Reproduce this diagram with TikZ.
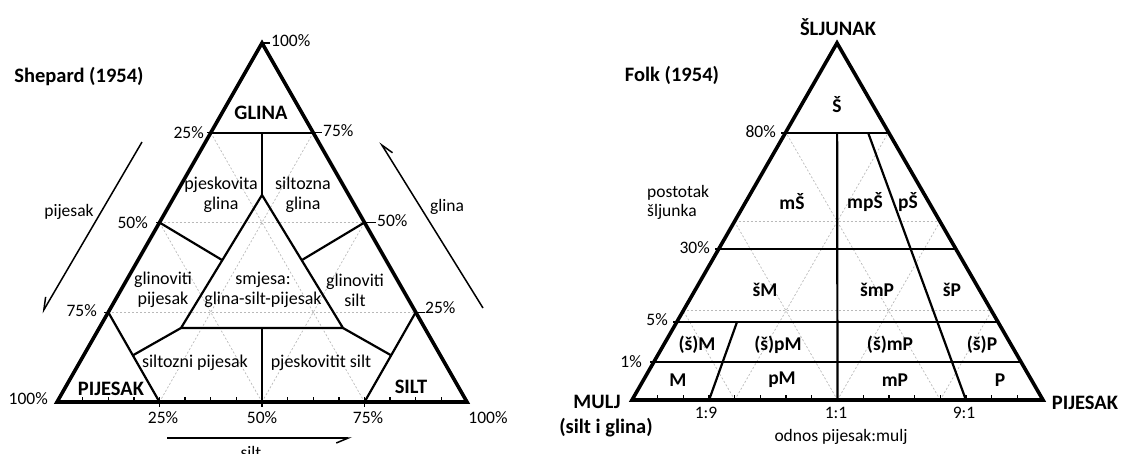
\documentclass[tikz,border=0pt]{standalone}
\usepackage{fontspec}
\setmainfont{Carlito}
\usepackage{tikz}
\usetikzlibrary{arrows.meta,calc}
\tikzset{
  rim/.style={line width=3.6pt, line join=miter},
  div/.style={line width=2.2pt},
  grd/.style={draw=gray!55, line width=0.7pt, dash pattern=on 2pt off 2pt},
  tck/.style={line width=1.3pt},
  arr/.style={line width=1.5pt, -{Straight Barb[harpoon,swap,length=12pt,width=10pt]}},
  pct/.style={font=\fontsize{17.5}{19}\selectfont, inner sep=1pt},
  reg/.style={font=\fontsize{18}{20}\selectfont, align=center, inner sep=0pt},
  big/.style={font=\fontsize{20.5}{24}\selectfont\bfseries, align=center, inner sep=0pt},
  fk/.style={font=\fontsize{19.5}{22}\selectfont\bfseries, inner sep=0pt},
}
\begin{document}
\begin{tikzpicture}[x=1pt,y=-1pt]
\useasboundingbox (0,0) rectangle (1121,453);
% corners
\coordinate (A1) at (262,43);
\coordinate (L1) at (57,402);
\coordinate (R1) at (467,402);
\coordinate (A2) at (837,43);
\coordinate (L2) at (632,400);
\coordinate (R2) at (1043,400);

% grid and ticks
\foreach \t in {1,2}{
  \foreach \f in {0.25,0.5,0.75}{
    \draw[grd] ($(A\t)!\f!(L\t)$) -- ($(A\t)!\f!(R\t)$);
    \draw[grd] ($(L\t)!\f!(R\t)$) -- ($(L\t)!\f!(A\t)$);
    \draw[grd] ($(R\t)!\f!(L\t)$) -- ($(R\t)!\f!(A\t)$);
  }
  \foreach \k in {1,...,15}
    \draw[tck] ($(L\t)!\k/16!(R\t)$) -- ++(0,-5);
}

% Shepard
\coordinate (c25l) at ($(A1)!0.25!(L1)$);
\coordinate (c25r) at ($(A1)!0.25!(R1)$);
\coordinate (c50l) at ($(A1)!0.5!(L1)$);
\coordinate (c50r) at ($(A1)!0.5!(R1)$);
\coordinate (c75l) at ($(A1)!0.75!(L1)$);
\coordinate (c75r) at ($(A1)!0.75!(R1)$);
\coordinate (b25) at ($(L1)!0.25!(R1)$);
\coordinate (b50) at ($(L1)!0.5!(R1)$);
\coordinate (b75) at ($(L1)!0.75!(R1)$);
\coordinate (in1) at (262,195);
\coordinate (in2) at (181,328);
\coordinate (in3) at (343,328);
\coordinate (j1) at ($(in1)!0.49!(in2)$);
\coordinate (j2) at ($(in1)!0.49!(in3)$);
\coordinate (k1) at ($(c75l)!0.48!(b25)$);
\coordinate (k2) at ($(c75r)!0.48!(b75)$);

\draw[div] (c25l) -- (c25r);
\draw[div] ($(c25l)!0.5!(c25r)$) -- (in1);
\draw[div] (in1) -- (in2) -- (in3) -- cycle;
\draw[div] (c50l) -- (j1);
\draw[div] (c50r) -- (j2);
\draw[div] (c75l) -- (b25);
\draw[div] (c75r) -- (b75);
\draw[div] (in2) -- (k1);
\draw[div] (in3) -- (k2);
\draw[div] ($(in2)!0.5!(in3)$) -- (b50);
\draw[rim] (A1) -- (L1) -- (R1) -- cycle;

\draw[tck] (A1) -- ++(8,0);
\draw[tck] (c25r) -- ++(9,0);
\draw[tck] (c50r) -- ++(11,0);
\draw[tck] (c75r) -- ++(9,0);
\draw[tck] (c25l) -- ++(-4,0);
\draw[tck] (c50l) -- ++(-4,0);
\draw[tck] (c75l) -- ++(-4,0);
\draw[tck] (b25) -- ++(0,5);
\draw[tck] (b50) -- ++(0,5);
\draw[tck] (b75) -- ++(0,5);

\node[pct, anchor=west] (t100) at (270,41) {100\%};
\node[pct, anchor=west] (r75) at (322,131) {75\%};
\node[pct, anchor=west] (r50) at (376,221) {50\%};
\node[pct, anchor=west] (r25) at (424,308) {25\%};
\node[pct, anchor=east] (l25) at (205,133) {25\%};
\node[pct, anchor=east] (l50) at (149,223) {50\%};
\node[pct, anchor=east] (l75) at (98,311) {75\%};
\node[pct, anchor=east] (l100) at (49,399) {100\%};
\node[pct] (d25) at (163,418) {25\%};
\node[pct] (d50) at (262,418) {50\%};
\node[pct] (d75) at (368,418) {75\%};
\node[pct] (d100) at (488,418) {100\%};

\node[big] (shep) at (79,77) {Shepard (1954)};
\node[big] (glina) at (261,113) {GLINA};
\node[big] (pijesak) at (111,389) {PIJESAK};
\node[big] (silt) at (411,387) {SILT};
\node[reg] (pg) at (221,195) {pjeskovita\\glina};
\node[reg] (sg) at (303,195) {siltozna\\glina};
\node[reg] (gp) at (163,290) {glinoviti\\pijesak};
\node[reg] (sm) at (263,290) {smjesa:\\glina-silt-pijesak};
\node[reg] (gs) at (355,290) {glinoviti\\silt};
\node[reg] (sp) at (195,363) {siltozni pijesak};
\node[reg] (ps) at (321,363) {pjeskovitit silt};

\coordinate (pa1) at (142,142);
\coordinate (pa2) at (42,313);
\coordinate (ga1) at (483,308);
\coordinate (ga2) at (380,142);
\coordinate (sa1) at (167,438);
\coordinate (sa2) at (352,438);
\draw[arr] (pa1) -- (pa2);
\draw[arr] (ga1) -- (ga2);
\draw[arr] (sa1) -- (sa2);
\node[pct] (pijl) at (69,212) {pijesak};
\node[pct] (glil) at (447,207) {glina};
\node[pct] (sill) at (251,452) {silt};

% Folk
\foreach \v/\n in {0.2521/h80, 0.577/h30, 0.7815/h5, 0.8936/h1}{
  \coordinate (\n l) at ($(A2)!\v!(L2)$);
  \coordinate (\n r) at ($(A2)!\v!(R2)$);
  \draw[div] (\n l) -- (\n r);
  \draw[tck] (\n l) -- ++(-4,0);
}
\coordinate (mid) at ($(L2)!0.5!(R2)$);
\coordinate (n91) at ($(L2)!13/16!(R2)$);
\coordinate (n19) at ($(L2)!3/16!(R2)$);
\draw[div] ($(h80l)!0.5!(h80r)$) -- (mid);
\draw[div] ($(h80l)!0.8!(h80r)$) -- (n91);
\draw[div] ($(h5l)!0.1875!(h5r)$) -- (n19);
\draw[rim] (A2) -- (L2) -- (R2) -- cycle;

\node[pct, anchor=east] (f80) at (777,132) {80\%};
\node[pct, anchor=east] (f30) at (711,248) {30\%};
\node[pct, anchor=east] (f5) at (669,320) {5\%};
\node[pct, anchor=east] (f1) at (643,362) {1\%};
\node[pct] (q19) at (706,413) {1:9};
\node[pct] (q11) at (836,413) {1:1};
\node[pct] (q91) at (964,413) {9:1};
\node[pct] (odnos) at (841,437) {odnos pijesak:mulj};
\node[pct, align=left, anchor=west] (post) at (646,202) {postotak\\šljunka};

\node[big] (folk) at (672,75) {Folk (1954)};
\node[big] (sljunak) at (838,27) {ŠLJUNAK};
\node[big] (mulj) at (597,402) {MULJ};
\node[big] (sig) at (606,428) {(silt i glina)};
\node[big] (pij2) at (1085,403) {PIJESAK};

\node[fk] (gS) at (837,105) {Š};
\node[fk] (mS) at (792,202) {mŠ};
\node[fk] (mpS) at (865,202) {mpŠ};
\node[fk] (pS) at (908,202) {pŠ};
\node[fk] (sM) at (765,290) {šM};
\node[fk] (smP) at (877,290) {šmP};
\node[fk] (sP) at (952,290) {šP};
\node[fk] (xM) at (697,345) {(š)M};
\node[fk] (xpM) at (778,345) {(š)pM};
\node[fk] (xmP) at (890,345) {(š)mP};
\node[fk] (xP) at (982,345) {(š)P};
\node[fk] (M) at (678,380) {M};
\node[fk] (pM) at (782,380) {pM};
\node[fk] (mP) at (895,380) {mP};
\node[fk] (P) at (1000,380) {P};
\end{tikzpicture}
\end{document}
